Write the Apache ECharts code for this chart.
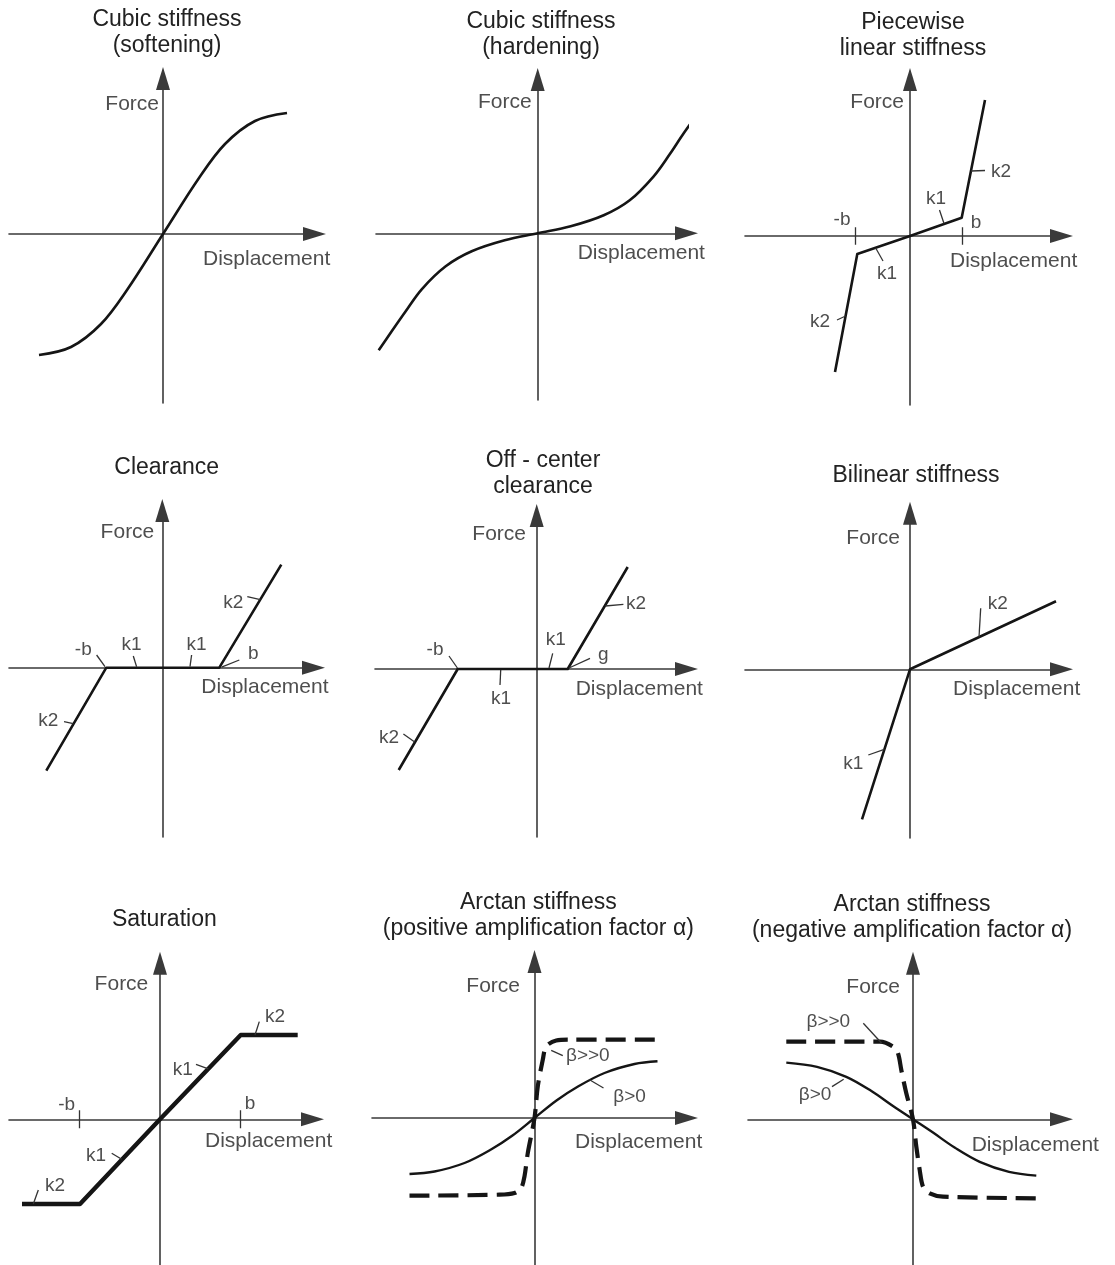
<!DOCTYPE html>
<html>
<head>
<meta charset="utf-8">
<script src="https://cdn.jsdelivr.net/npm/echarts@6/dist/echarts.min.js"></script>
<style>
  html, body { margin: 0; padding: 0; background: #ffffff; }
  #chart { width: 1115px; height: 1265px; }
</style>
</head>
<body>
<div id="chart"></div>
<script>
// ---- Force / displacement characteristics (arbitrary units, origin at the axis crossing) ----
// Cubic stiffness, softening
const softX = [-12.4, -9.2, -6.2, -3.6, 0, 3.6, 6.2, 9.2, 12.4];
const softY = [-12.1, -11.3, -9.0, -5.6, 0, 5.6, 9.0, 11.3, 12.1];
// Cubic stiffness, hardening
const hardX = [-15.9, -14.6, -13.2, -11.6, -9.2, -6.6, -3.3, 0, 3.3, 6.6, 9.2, 11.6, 13.2, 14.6, 15.9];
const hardY = [-11.7, -9.8, -7.8, -5.6, -3.3, -1.8, -0.7, 0, 0.7, 1.8, 3.3, 5.7, 7.9, 10.0, 11.8];
// Piecewise linear stiffness
const pwX = [-7.5, -5.27, 0, 5.17, 7.5];
const pwY = [-13.6, -1.8, 0, 1.83, 13.6];
// Clearance
const clrX = [-11.6, -5.6, 5.7, 11.9];
const clrY = [-10.3, 0, 0, 10.3];
// Off-center clearance
const offX = [-13.8, -7.9, 3.1, 9.1];
const offY = [-10.1, 0, 0, 10.2];
// Bilinear stiffness
const bilX = [-4.8, 0, 14.6];
const bilY = [-15.0, 0, 6.8];
// Saturation
const satX = [-13.8, -8.0, 0, 8.07, 13.77];
const satY = [-8.47, -8.47, 0, 8.43, 8.43];
// Arctan stiffness, positive amplification factor
const atanPosX = [-12.5, -10.0, -7.0, -4.35, -2.2, 0, 2.2, 4.35, 7.0, 10.0, 12.3];
const atanPosY = [-5.6, -5.35, -4.5, -3.15, -1.75, 0, 1.75, 3.15, 4.5, 5.4, 5.67];
const atanPosSteepX = [-12.5, -3.5, -2.0, -1.33, -1.0, -0.67, 0, 0.33, 0.83, 1.17, 2.17, 3.5, 12.5];
const atanPosSteepY = [-7.77, -7.67, -7.5, -7.0, -5.83, -3.5, 0, 3.17, 5.83, 7.17, 7.75, 7.83, 7.83];
// Arctan stiffness, negative amplification factor
const atanNegX = [-12.67, -9.6, -6.67, -4.2, -2.0, 0, 2.0, 4.2, 6.67, 9.6, 12.33];
const atanNegY = [5.67, 5.25, 4.25, 2.85, 1.33, 0, -1.33, -2.85, -4.25, -5.25, -5.63];
const atanNegSteepX = [-12.67, -3.3, -2.0, -1.5, -1.17, -0.67, 0, 0.33, 0.67, 1.0, 1.67, 3.0, 12.5];
const atanNegSteepY = [7.77, 7.77, 7.27, 6.6, 4.93, 2.6, 0, -2.73, -5.07, -6.73, -7.4, -7.73, -7.9];

// ---- styling ----
const FONT = "'Liberation Sans', Arial, Helvetica, sans-serif";
const INK = '#222222';
const AXIS_INK = '#3a3a3a';
const CURVE_INK = '#151515';
const UNIT = 10;              // pixels per data unit on both axes
const ARROW = [14, 23];       // arrow head width, length
const AXIS_FS = 21, TAG_FS = 19, TITLE_FS = 23;

// ---- panel layout: origin (ox, oy) and axis reach l/r/u/d in pixels ----
const panels = [
  { title: ['Cubic stiffness', '(softening)'], tx: 167, ty: 20, ox: 163, oy: 234, l: 154, r: 163, u: 167, d: 169,
    curves: [{ x: softX, y: softY, w: 2.6, smooth: 0.35 }],
    texts: [['Force', -0.4, 13.0, 'right'], ['Displacement', 4.0, -2.5, 'left']],
    marks: [] },
  { title: ['Cubic stiffness', '(hardening)'], tx: 541, ty: 21.5, ox: 537.7, oy: 233.3, l: 161.7, r: 160.3, u: 165.3, d: 166.7,
    curves: [{ x: hardX, y: hardY, w: 2.6, smooth: 0.35 }],
    texts: [['Force', -0.6, 13.1, 'right'], ['Displacement', 4.0, -2.0, 'left']],
    marks: [] },
  { title: ['Piecewise', 'linear stiffness'], tx: 913, ty: 22.5, ox: 910, oy: 236, l: 165, r: 163, u: 168, d: 169,
    curves: [{ x: pwX, y: pwY, w: 2.6 }],
    texts: [['Force', -0.6, 13.4, 'right'], ['Displacement', 4.0, -2.5, 'left'],
            ['-b', -6.8, 1.6], ['b', 6.6, 1.3], ['k1', 2.6, 3.7], ['k2', 9.1, 6.4], ['k1', -2.3, -3.8], ['k2', -9.0, -8.6]],
    marks: [[[-5.5, -0.87], [-5.5, 0.87]], [[5.27, -0.87], [5.27, 0.87]],
            [[2.95, 2.6], [3.4, 1.25]], [[7.5, 6.55], [6.1, 6.5]], [[-2.7, -2.5], [-3.43, -1.2]], [[-7.3, -8.4], [-6.44, -8.0]]] },
  { title: ['Clearance'], tx: 166.7, ty: 468, ox: 162.3, oy: 667.7, l: 153.3, r: 162.7, u: 168.7, d: 169.3,
    curves: [{ x: clrX, y: clrY, w: 2.6 }],
    texts: [['Force', -0.8, 13.5, 'right'], ['Displacement', 3.9, -2.0, 'left'],
            ['-b', -7.9, 1.8], ['k1', -3.07, 2.27], ['k1', 3.43, 2.27], ['k2', 7.1, 6.5], ['b', 9.1, 1.43], ['k2', -11.4, -5.3]],
    marks: [[[-6.57, 1.27], [-5.73, 0.1]], [[-2.9, 1.17], [-2.57, 0.1]], [[2.93, 1.27], [2.77, 0.1]],
            [[8.5, 7.1], [9.8, 6.8]], [[7.7, 0.77], [5.93, 0.05]], [[-9.83, -5.4], [-8.9, -5.6]]] },
  { title: ['Off - center', 'clearance'], tx: 543, ty: 460.5, ox: 536.7, oy: 669, l: 161.7, r: 161.3, u: 165, d: 168,
    curves: [{ x: offX, y: offY, w: 2.6 }],
    texts: [['Force', -1.07, 13.5, 'right'], ['Displacement', 3.9, -2.0, 'left'],
            ['-b', -10.17, 1.97], ['k1', 1.9, 2.9], ['k1', -3.57, -2.93], ['g', 6.67, 1.4], ['k2', 9.93, 6.57], ['k2', -14.77, -6.83]],
    marks: [[[-8.77, 1.3], [-7.93, 0.1]], [[1.6, 1.57], [1.23, 0.1]], [[-3.67, -1.6], [-3.6, -0.1]],
            [[5.33, 1.07], [3.23, 0.1]], [[8.67, 6.47], [6.85, 6.3]], [[-13.33, -6.5], [-12.2, -7.3]]] },
  { title: ['Bilinear stiffness'], tx: 916, ty: 476, ox: 910, oy: 669.3, l: 165, r: 163, u: 167.6, d: 168.7,
    curves: [{ x: bilX, y: bilY, w: 2.6 }],
    texts: [['Force', -1.0, 13.1, 'right'], ['Displacement', 4.3, -2.0, 'left'],
            ['k2', 8.77, 6.53], ['k1', -5.67, -9.4]],
    marks: [[[7.07, 6.1], [6.9, 3.2]], [[-4.17, -8.57], [-2.57, -8.0]]] },
  { title: ['Saturation'], tx: 164.3, ty: 919.3, ox: 160, oy: 1119.3, l: 151, r: 164, u: 167.6, d: 145.7,
    curves: [{ x: satX, y: satY, w: 4.4 }],
    texts: [['Force', -1.17, 13.5, 'right'], ['Displacement', 4.5, -2.17, 'left'],
            ['-b', -9.33, 1.43], ['b', 9.0, 1.53], ['k2', 11.5, 10.27], ['k1', 2.27, 5.0], ['k1', -6.4, -3.67], ['k2', -10.5, -6.67]],
    marks: [[[-8.07, -0.9], [-8.07, 0.9]], [[8.07, -0.9], [8.07, 0.9]],
            [[9.93, 9.77], [9.5, 8.43]], [[3.6, 5.5], [4.83, 5.05]], [[-4.83, -3.4], [-3.83, -4.0]], [[-12.17, -7.07], [-12.67, -8.47]]] },
  { title: ['Arctan stiffness', '(positive amplification factor \u03b1)'], tx: 538.3, ty: 902.7, ox: 534.5, oy: 1118, l: 162.5, r: 163.5, u: 168, d: 147,
    curves: [{ x: atanPosX, y: atanPosY, w: 2.4, smooth: 0.35 },
             { x: atanPosSteepX, y: atanPosSteepY, w: 4.2, smooth: 0.3, dash: [20, 9] }],
    texts: [['Force', -1.45, 13.2, 'right'], ['Displacement', 4.05, -2.47, 'left'],
            ['\u03b2>>0', 5.33, 6.23], ['\u03b2>0', 9.5, 2.1]],
    marks: [[[2.83, 6.23], [1.67, 6.77]], [[6.9, 3.0], [5.5, 3.83]]] },
  { title: ['Arctan stiffness', '(negative amplification factor \u03b1)'], tx: 912, ty: 905, ox: 913, oy: 1119.3, l: 165, r: 160, u: 167.6, d: 145.7,
    curves: [{ x: atanNegX, y: atanNegY, w: 2.4, smooth: 0.35 },
             { x: atanNegSteepX, y: atanNegSteepY, w: 4.2, smooth: 0.3, dash: [20, 9] }],
    texts: [['Force', -1.3, 13.2, 'right'], ['Displacement', 5.87, -2.57, 'left'],
            ['\u03b2>>0', -8.47, 9.77], ['\u03b2>0', -9.8, 2.43]],
    marks: [[[-4.97, 9.6], [-3.13, 7.6]], [[-8.1, 3.27], [-6.93, 4.0]]] }
];

const grids = [], xAxes = [], yAxes = [], series = [], graphics = [];
const half = ARROW[1] / 2;

panels.forEach((p, i) => {
  grids.push({
    left: p.ox - p.l, top: p.oy - p.u + half,
    width: p.l + p.r - half, height: p.u - half + p.d,
    containLabel: false, outerBoundsMode: 'none', show: false
  });
  const axisLine = {
    show: true, onZero: true, symbol: ['none', 'triangle'], symbolSize: ARROW,
    lineStyle: { color: AXIS_INK, width: 1.6 }
  };
  const hidden = { axisTick: { show: false }, axisLabel: { show: false }, splitLine: { show: false } };
  xAxes.push(Object.assign({ gridIndex: i, type: 'value', min: -p.l / UNIT, max: (p.r - half) / UNIT, axisLine }, hidden));
  yAxes.push(Object.assign({ gridIndex: i, type: 'value', min: -p.d / UNIT, max: (p.u - half) / UNIT, axisLine }, hidden));

  p.curves.forEach(c => {
    series.push({
      type: 'line', xAxisIndex: i, yAxisIndex: i,
      data: c.x.map((v, k) => [v, c.y[k]]),
      showSymbol: false, symbol: 'none', smooth: c.smooth || false,
      lineStyle: { color: CURVE_INK, width: c.w, type: c.dash || 'solid', cap: 'butt', join: 'round' },
      silent: true, z: 3
    });
  });

  if (p.marks.length) {
    series.push({
      type: 'lines', coordinateSystem: 'cartesian2d', xAxisIndex: i, yAxisIndex: i,
      data: p.marks.map(s => ({ coords: s })),
      lineStyle: { color: '#333333', width: 1.3, opacity: 1, curveness: 0 },
      silent: true, z: 4
    });
  }

  series.push({
    type: 'scatter', xAxisIndex: i, yAxisIndex: i, symbolSize: 1, silent: true, clip: false,
    itemStyle: { color: 'rgba(0,0,0,0)' },
    data: p.texts.map(t => {
      const isAxisName = t[0] === 'Force' || t[0] === 'Displacement';
      return {
        value: [t[1], t[2]],
        label: {
          show: true, formatter: t[0], position: 'inside',
          align: t[3] || 'center', verticalAlign: 'middle',
          fontSize: isAxisName ? AXIS_FS : TAG_FS, fontFamily: FONT, color: INK
        }
      };
    }),
    z: 5
  });

  graphics.push({
    type: 'text', x: p.tx, y: p.ty - 13,
    style: {
      text: p.title.join('\n'), fontSize: TITLE_FS, fontFamily: FONT, fill: INK,
      align: 'center', verticalAlign: 'top', lineHeight: 26
    },
    silent: true
  });
});

const chart = echarts.init(document.getElementById('chart'), null, { renderer: 'canvas' });
chart.setOption({
  animation: false,
  backgroundColor: '#ffffff',
  grid: grids,
  xAxis: xAxes,
  yAxis: yAxes,
  series: series,
  graphic: graphics
});
</script>
</body>
</html>
